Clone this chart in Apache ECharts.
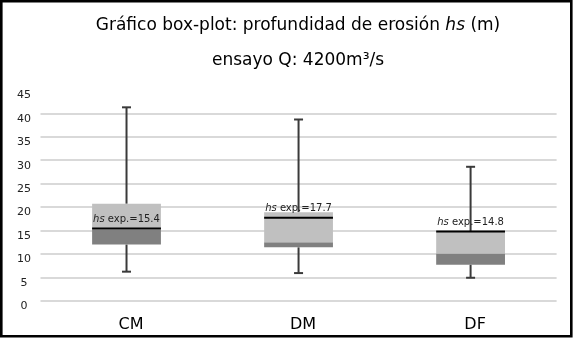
<!DOCTYPE html>
<html>
<head>
<meta charset="utf-8">
<script src="https://cdn.jsdelivr.net/npm/echarts@6/dist/echarts.min.js"></script>
<style>html,body{margin:0;padding:0;background:#fff;}#c{width:577px;height:342px;}</style>
</head>
<body>
<div id="c"></div>
<script>
const categories = ['CM', 'DM', 'DF'];
const whiskerLow = [6.2, 5.9, 4.9];
const q1 = [12.0, 11.4, 7.7];
const median = [15.2, 12.5, 10.1];
const q3 = [20.7, 18.9, 14.8];
const whiskerHigh = [41.3, 38.7, 28.6];
const hsExp = [15.4, 17.7, 14.8];
const hsExpLabels = ['15.4', '17.7', '14.8'];

const FONT = '"DejaVu Sans", Verdana, sans-serif';
const chart = echarts.init(document.getElementById('c'));

const data = categories.map((c, i) => [i, whiskerLow[i], q1[i], median[i], q3[i], whiskerHigh[i], hsExp[i]]);

function renderItem(params, api) {
  const i = api.value(0);
  const p = v => api.coord([i, v]);
  const bw = api.size([1, 0])[0] * 0.4;
  const cx = p(0)[0];
  const yLow = p(api.value(1))[1];
  const yQ1 = p(api.value(2))[1];
  const yMed = p(api.value(3))[1];
  const yQ3 = p(api.value(4))[1];
  const yHigh = p(api.value(5))[1];
  const yHs = p(api.value(6))[1];
  const wc = '#3a3a3a';
  const cap = 4.5;
  return {
    type: 'group',
    children: [
      { type: 'line', z2: 1, shape: { x1: cx, y1: yHigh, x2: cx, y2: yQ3 }, style: { stroke: wc, lineWidth: 2 } },
      { type: 'line', z2: 1, shape: { x1: cx, y1: yQ1, x2: cx, y2: yLow }, style: { stroke: wc, lineWidth: 2 } },
      { type: 'line', z2: 1, shape: { x1: cx - cap, y1: yHigh, x2: cx + cap, y2: yHigh }, style: { stroke: wc, lineWidth: 2 } },
      { type: 'line', z2: 1, shape: { x1: cx - cap, y1: yLow, x2: cx + cap, y2: yLow }, style: { stroke: wc, lineWidth: 2 } },
      { type: 'rect', z2: 2, shape: { x: cx - bw / 2, y: yMed, width: bw, height: yQ1 - yMed }, style: { fill: '#808080' } },
      { type: 'rect', z2: 2, shape: { x: cx - bw / 2, y: yQ3, width: bw, height: yMed - yQ3 }, style: { fill: '#c0c0c0' } },
      { type: 'line', z2: 3, shape: { x1: cx - bw / 2, y1: yHs, x2: cx + bw / 2, y2: yHs }, style: { stroke: '#000', lineWidth: 2 } },
      { type: 'text', z2: 4, style: {
          text: '{i|hs} {n|exp.=' + hsExpLabels[i] + '}',
          x: cx, y: yHs - 9, align: 'center', verticalAlign: 'middle',
          rich: {
            i: { fontStyle: 'italic', fontSize: 10, fontFamily: FONT, fill: '#222' },
            n: { fontSize: 10, fontFamily: FONT, fill: '#222' }
          },
          fontSize: 10, fontFamily: FONT, fill: '#222'
        } }
    ]
  };
}

chart.setOption({
  animation: false,
  backgroundColor: '#fff',
  graphic: [
    { type: 'rect', shape: { x: 1.3, y: 1.3, width: 570, height: 335 }, style: { fill: 'none', stroke: '#000', lineWidth: 2.6 }, z: 100 },
    { type: 'text', z: 100, style: {
        text: '{a|Gráfico box-plot: profundidad de erosión }{i|hs}{a| (m)}',
        x: 298, y: 26, align: 'center', verticalAlign: 'middle',
        fontSize: 17, fontFamily: FONT, fill: '#000',
        rich: {
          a: { fontSize: 17, fontFamily: FONT, fill: '#000' },
          i: { fontSize: 17, fontFamily: FONT, fill: '#000', fontStyle: 'italic' }
        }
      } },
    { type: 'text', z: 100, style: {
        text: 'ensayo Q: 4200m³/s',
        x: 298, y: 61, align: 'center', verticalAlign: 'middle',
        fontSize: 17, fontFamily: FONT, fill: '#000'
      } }
  ],
  grid: { left: 40.5, right: 20.4, top: 90, bottom: 41.3, containLabel: false },
  xAxis: {
    type: 'category',
    data: categories,
    axisLine: { show: false },
    axisTick: { show: false },
    splitLine: { show: false },
    axisLabel: { color: '#000', fontSize: 16, fontFamily: FONT, margin: 16, padding: [0, 0, 0, 9] }
  },
  yAxis: {
    type: 'value',
    min: 0, max: 45, interval: 5,
    axisLine: { show: false },
    axisTick: { show: false },
    axisLabel: { color: '#222', fontSize: 11, fontFamily: FONT, align: 'center', verticalAlign: 'top', margin: 16.5 },
    splitLine: { show: true, showMaxLine: false, lineStyle: { color: '#d9d9d9', width: 2 } }
  },
  series: [{
    type: 'custom',
    renderItem: renderItem,
    encode: { x: 0, y: [1, 5] },
    data: data
  }]
});
</script>
</body>
</html>
